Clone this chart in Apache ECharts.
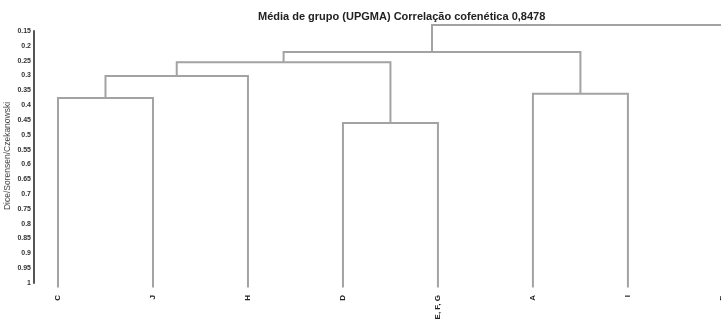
<!DOCTYPE html>
<html>
<head>
<meta charset="utf-8">
<script src="https://cdn.jsdelivr.net/npm/echarts@6/dist/echarts.min.js"></script>
<style>
  html, body { margin: 0; padding: 0; background: #fff; }
  #chart { width: 721px; height: 332px; }
</style>
</head>
<body>
<div id="chart"></div>
<script>
// leaves, left to right
const leafLabels = ['C', 'J', 'H', 'D', 'E, F, G', 'A', 'I', 'B'];

// merges: node ids 0..7 are leaves, merge k creates node 8 + k
const mergeLeft = [0, 8, 3, 9, 5, 11, 13];
const mergeRight = [1, 2, 4, 10, 6, 12, 7];
const mergeHeight = [0.376, 0.302, 0.46, 0.255, 0.362, 0.221, 0.13];

const leafBase = 1.015;
const yMin = 0.15, yMax = 1, yStep = 0.05;

// x position and height of every node
const nodeX = leafLabels.map((_, i) => i);
const nodeH = leafLabels.map(() => leafBase);
mergeHeight.forEach((h, k) => {
  nodeX.push((nodeX[mergeLeft[k]] + nodeX[mergeRight[k]]) / 2);
  nodeH.push(h);
});

const linkData = mergeHeight.map((h, k) => [
  nodeX[mergeLeft[k]], nodeH[mergeLeft[k]],
  nodeX[mergeRight[k]], nodeH[mergeRight[k]], h
]);
const leafData = leafLabels.map((name, i) => [i, yMax, name]);

const chart = echarts.init(document.getElementById('chart'));

chart.setOption({
  animation: false,
  title: {
    text: 'Média de grupo (UPGMA) Correlação cofenética 0,8478',
    left: 253,
    top: 6,
    textStyle: { fontFamily: 'Liberation Sans', fontSize: 11, fontWeight: 'bold', color: '#222' }
  },
  // y axis name, placed by hand
  graphic: [{
    type: 'text',
    x: 8,
    y: 156,
    rotation: Math.PI / 2,
    style: {
      text: 'Dice/Sorensen/Czekanowski',
      align: 'center',
      verticalAlign: 'middle',
      fontFamily: 'Liberation Sans',
      fontSize: 8.5,
      fill: '#444'
    }
  }],
  grid: { left: 34, right: 0, top: 31, height: 252, containLabel: false, outerBoundsMode: 'none' },
  xAxis: {
    type: 'value',
    min: -0.2526,
    max: 6.98,
    show: false
  },
  yAxis: {
    type: 'value',
    inverse: true,
    min: yMin,
    max: yMax,
    interval: yStep,
    axisLine: { show: true, onZero: false, lineStyle: { color: '#555', width: 2 } },
    axisTick: { show: false },
    splitLine: { show: false },
    axisLabel: {
      margin: 3,
      fontFamily: 'Liberation Sans',
      fontSize: 7,
      fontWeight: 'bold',
      color: '#333'
    }
  },
  series: [
    {
      type: 'custom',
      clip: false,
      data: linkData,
      renderItem: (params, api) => {
        const a = api.coord([api.value(0), api.value(1)]);
        const b = api.coord([api.value(0), api.value(4)]);
        const c = api.coord([api.value(2), api.value(4)]);
        const d = api.coord([api.value(2), api.value(3)]);
        return {
          type: 'polyline',
          shape: { points: [a, b, c, d] },
          style: { stroke: '#a3a3a3', lineWidth: 2, fill: null }
        };
      }
    },
    {
      type: 'custom',
      clip: false,
      data: leafData,
      renderItem: (params, api) => {
        const p = api.coord([api.value(0), api.value(1)]);
        return {
          type: 'text',
          x: p[0],
          y: p[1] + 12,
          rotation: Math.PI / 2,
          style: {
            text: leafLabels[params.dataIndex],
            align: 'right',
            verticalAlign: 'middle',
            fontFamily: 'Liberation Sans',
            fontSize: 8,
            fontWeight: 'bold',
            fill: '#222'
          }
        };
      }
    }
  ]
});
</script>
</body>
</html>
